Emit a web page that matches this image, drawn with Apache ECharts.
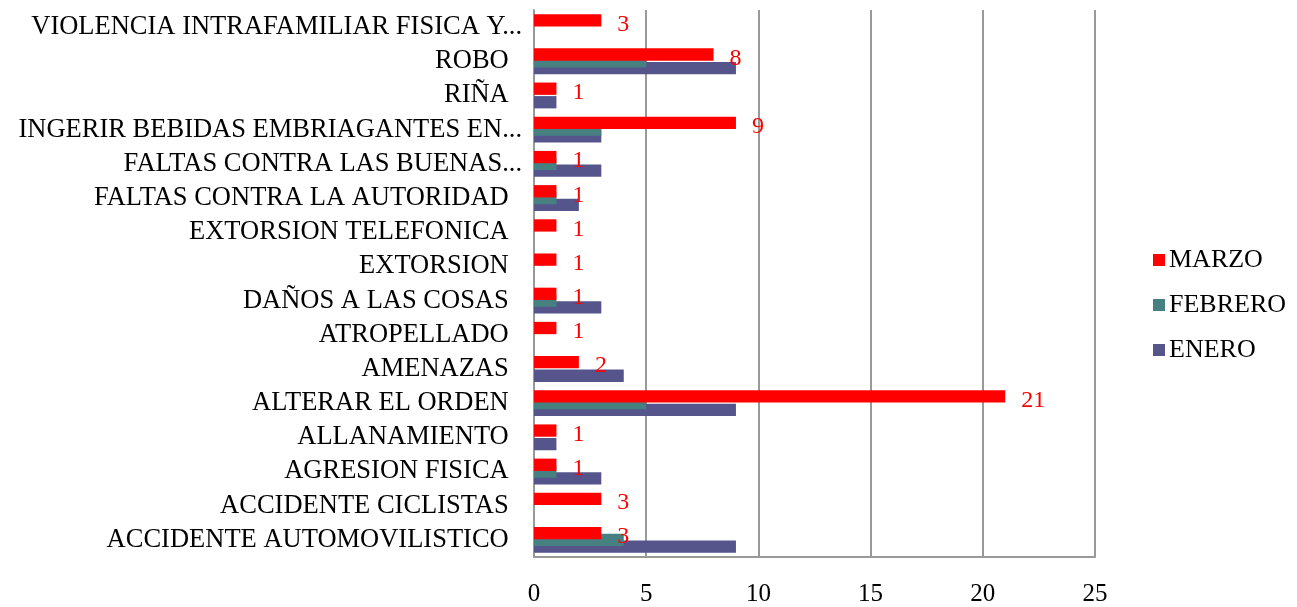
<!DOCTYPE html>
<html>
<head>
<meta charset="utf-8">
<script src="https://cdn.jsdelivr.net/npm/echarts@6/dist/echarts.min.js"></script>
<style>
html,body{margin:0;padding:0;background:#fff;}
#chart{width:1297px;height:607px;}
</style>
</head>
<body>
<div id="chart"></div>
<script>
const categories = [
  "ACCIDENTE AUTOMOVILISTICO",
  "ACCIDENTE CICLISTAS",
  "AGRESION FISICA",
  "ALLANAMIENTO",
  "ALTERAR EL ORDEN",
  "AMENAZAS",
  "ATROPELLADO",
  "DAÑOS A LAS COSAS",
  "EXTORSION",
  "EXTORSION TELEFONICA",
  "FALTAS CONTRA LA AUTORIDAD",
  "FALTAS CONTRA LAS BUENAS...",
  "INGERIR BEBIDAS EMBRIAGANTES EN...",
  "RIÑA",
  "ROBO",
  "VIOLENCIA INTRAFAMILIAR FISICA Y..."
];
const marzo   = [3, 3, 1, 1, 21, 2, 1, 1, 1, 1, 1, 1, 9, 1, 8, 3];
const febrero = [4, 0, 1, 0, 5, 0, 0, 1, 0, 0, 1, 1, 3, 0, 5, 0];
const enero   = [9, 0, 3, 1, 9, 4, 0, 3, 0, 0, 2, 3, 3, 1, 9, 0];
const seriesNames = ["MARZO", "FEBRERO", "ENERO"];
const xTicks = [0, 5, 10, 15, 20, 25];

const font = "'Liberation Serif', 'Times New Roman', serif";
const chart = echarts.init(document.getElementById('chart'));
chart.setOption({
  animation: false,
  textStyle: { fontFamily: font },
  grid: { left: 534, right: 202, top: 10, bottom: 44, containLabel: false },
  legend: {
    data: seriesNames,
    orient: 'vertical',
    left: 1148,
    top: 242,
    itemWidth: 12,
    itemHeight: 12,
    itemGap: 19,
    icon: 'rect',
    textStyle: { fontFamily: font, fontSize: 26, color: '#000', padding: [0,0,0,-1] }
  },
  xAxis: {
    type: 'value',
    min: xTicks[0],
    max: xTicks[xTicks.length - 1],
    interval: 5,
    axisLine: { show: true, lineStyle: { color: '#999', width: 2 } },
    axisTick: { show: false },
    axisLabel: { fontFamily: font, fontSize: 25, color: '#000', margin: 25 },
    splitLine: { show: true, lineStyle: { color: '#999', width: 2 } }
  },
  yAxis: {
    type: 'category',
    data: categories,
    axisLine: { show: true, lineStyle: { color: '#999', width: 2 } },
    axisTick: { show: false },
    axisLabel: {
      interval: 0, hideOverlap: false,
      fontFamily: font, fontSize: 26.5, color: '#000', margin: 12,
      formatter: v => v.endsWith('...') ? v : v + '  '
    },
    splitLine: { show: false }
  },
  series: [
    {
      name: seriesNames[0], type: 'bar', data: marzo, z: 4,
      barWidth: '36%', barGap: '-45%',
      itemStyle: { color: '#FF0000' },
      label: { show: true, position: 'right', distance: 16, color: '#FF0000',
               fontFamily: font, fontSize: 24, offset: [0, 4] }
    },
    {
      name: seriesNames[1], type: 'bar', data: febrero, z: 3,
      barWidth: '36%', barGap: '-45%',
      itemStyle: { color: '#468080' }
    },
    {
      name: seriesNames[2], type: 'bar', data: enero, z: 2,
      barWidth: '36%', barGap: '-45%',
      itemStyle: { color: '#55558B' }
    }
  ]
});
</script>
</body>
</html>
